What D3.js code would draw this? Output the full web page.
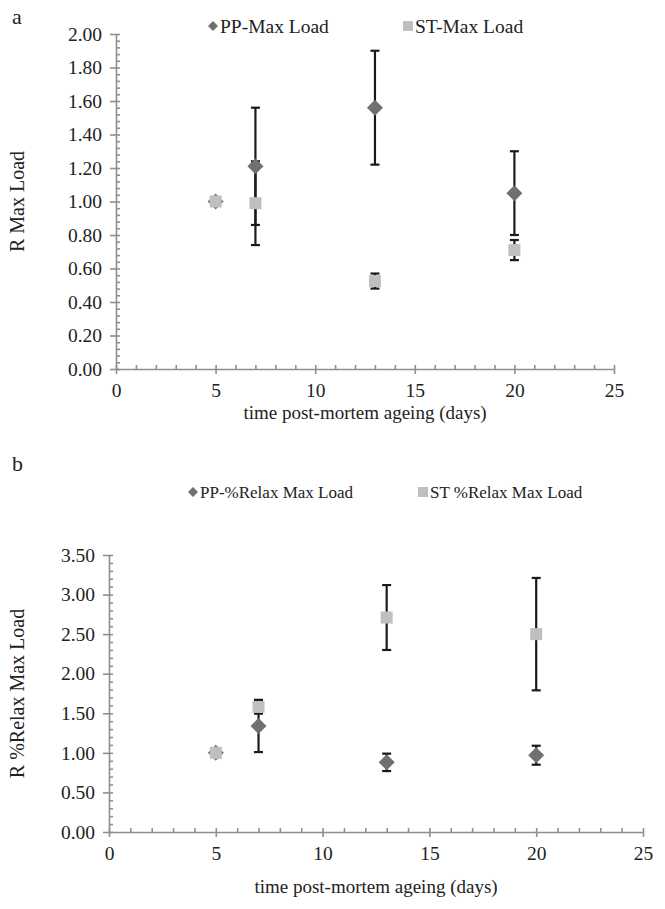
<!DOCTYPE html>
<html><head><meta charset="utf-8">
<script src="https://cdn.jsdelivr.net/npm/d3@7"></script>
<style>
body{margin:0;background:#fff;}
svg text{font-family:"Liberation Serif","Times New Roman",serif;fill:#222;}
</style></head>
<body>
<svg id="c" width="665" height="909"></svg>
<script>
const days = [5, 7, 13, 20];
const ppMaxLoad = [1.00, 1.21, 1.56, 1.05];
const ppMaxLoadErr = [0, 0.35, 0.34, 0.25];
const stMaxLoad = [1.00, 0.99, 0.525, 0.71];
const stMaxLoadErr = [0, 0.25, 0.045, 0.06];
const ppRelax = [1.00, 1.34, 0.88, 0.97];
const ppRelaxErr = [0, 0.33, 0.11, 0.12];
const stRelax = [1.00, 1.58, 2.71, 2.50];
const stRelaxErr = [0, 0.085, 0.41, 0.71];
const xTicks = [0, 5, 10, 15, 20, 25];
const yTicksA = [0, 0.2, 0.4, 0.6, 0.8, 1.0, 1.2, 1.4, 1.6, 1.8, 2.0];
const yTicksB = [0, 0.5, 1.0, 1.5, 2.0, 2.5, 3.0, 3.5];
const xTitle = "time post-mortem ageing (days)";

const PP_COLOR = "#707070", ST_COLOR = "#bfbfbf", AXIS = "#8f8f8f";
const svg = d3.select("#c");

function panel(opt) {
  const g = svg.append("g");
  const x = d3.scaleLinear().domain([0, 25]).range(opt.xr);
  const y = d3.scaleLinear().domain([0, opt.ymax]).range(opt.yr);
  const x0 = opt.xr[0], y0 = opt.yr[0];

  // minor inward ticks
  const minorY = d3.range(0, opt.ymax + 1e-9, opt.yminor);
  g.append("g").attr("transform", `translate(${x0},0)`)
    .call(d3.axisRight(y).tickValues(minorY).tickSize(4).tickFormat(""))
    .call(s => s.select(".domain").remove());
  const minorX = d3.range(0, 26, 1);
  g.append("g").attr("transform", `translate(0,${y0})`)
    .call(d3.axisTop(x).tickValues(minorX).tickSize(4).tickFormat(""))
    .call(s => s.select(".domain").remove());
  // major axes
  g.append("g").attr("transform", `translate(${x0},0)`)
    .call(d3.axisLeft(y).tickValues(opt.yticks).tickSize(6).tickSizeOuter(0).tickPadding(8).tickFormat(d3.format(".2f")));
  const xa = g.append("g").attr("transform", `translate(0,${y0})`)
    .call(d3.axisBottom(x).tickValues(xTicks).tickSize(5).tickSizeOuter(0).tickPadding(9).tickFormat(d3.format("d")));
  g.selectAll(".tick line, .domain").attr("stroke", AXIS).attr("stroke-width", 1.6);
  g.selectAll(".tick text").attr("font-size", 19.5).attr("font-family", "Liberation Serif").attr("fill", "#222");
  xa.selectAll(".tick text").attr("dy", "0.73em");

  // error bars
  const series = [
    {v: opt.pp, e: opt.ppErr},
    {v: opt.st, e: opt.stErr}
  ];
  series.forEach(s => {
    const eg = g.append("g").attr("stroke", "#1a1a1a").attr("stroke-width", 2.2);
    days.forEach((d, i) => {
      if (!s.e[i]) return;
      const cx = x(d), hi = y(s.v[i] + s.e[i]), lo = y(s.v[i] - s.e[i]);
      eg.append("line").attr("x1", cx).attr("x2", cx).attr("y1", hi).attr("y2", lo);
      eg.append("line").attr("x1", cx - 4.5).attr("x2", cx + 4.5).attr("y1", hi).attr("y2", hi);
      eg.append("line").attr("x1", cx - 4.5).attr("x2", cx + 4.5).attr("y1", lo).attr("y2", lo);
    });
  });
  // markers
  g.append("g").selectAll("path").data(days).join("path")
    .attr("d", (d, i) => {
      const cx = x(d), cy = y(opt.pp[i]), r = 8;
      return `M${cx},${cy - r}L${cx + r},${cy}L${cx},${cy + r}L${cx - r},${cy}Z`;
    }).attr("fill", PP_COLOR);
  g.append("g").selectAll("rect").data(days).join("rect")
    .attr("x", d => x(d) - 6).attr("y", (d, i) => y(opt.st[i]) - 6)
    .attr("width", 12).attr("height", 12).attr("fill", ST_COLOR);

  // legend
  const lg = g.append("g");
  const ly = opt.legY;
  const lx1 = opt.leg1x, r = 5;
  lg.append("path").attr("d", `M${lx1},${ly - r}L${lx1 + r},${ly}L${lx1},${ly + r}L${lx1 - r},${ly}Z`).attr("fill", PP_COLOR);
  lg.append("text").attr("x", lx1 + 7).attr("y", ly).attr("dy", "0.35em").attr("font-size", opt.legFs).text(opt.leg1);
  lg.append("rect").attr("x", opt.leg2x - 5).attr("y", ly - 5).attr("width", 10).attr("height", 10).attr("fill", ST_COLOR);
  lg.append("text").attr("x", opt.leg2x + 7).attr("y", ly).attr("dy", "0.35em").attr("font-size", opt.legFs).text(opt.leg2);

  // titles
  g.append("text").attr("x", (opt.xr[0] + opt.xr[1]) / 2).attr("y", opt.xTitleY)
    .attr("text-anchor", "middle").attr("font-size", 19).text(xTitle);
  g.append("text").attr("transform", `translate(${opt.yTitleX},${(opt.yr[0] + opt.yr[1]) / 2}) rotate(-90)`)
    .attr("text-anchor", "middle").attr("font-size", 20).text(opt.yTitle);
  g.append("text").attr("x", 12).attr("y", opt.labelY).attr("font-size", 22).text(opt.label);
}

panel({
  xr: [116, 614], yr: [369, 34], ymax: 2, yminor: 0.04, yticks: yTicksA,
  pp: ppMaxLoad, ppErr: ppMaxLoadErr, st: stMaxLoad, stErr: stMaxLoadErr,
  leg1: "PP-Max Load", leg2: "ST-Max Load", leg1x: 213, leg2x: 408, legY: 26, legFs: 19.5,
  xTitleY: 419, yTitleX: 24, yTitle: "R Max Load", label: "a", labelY: 24
});
panel({
  xr: [109, 643], yr: [832, 555], ymax: 3.5, yminor: 0.1, yticks: yTicksB,
  pp: ppRelax, ppErr: ppRelaxErr, st: stRelax, stErr: stRelaxErr,
  leg1: "PP-%Relax Max Load", leg2: "ST %Relax Max Load", leg1x: 193, leg2x: 423, legY: 492, legFs: 17,
  xTitleY: 893, yTitleX: 24, yTitle: "R %Relax Max Load", label: "b", labelY: 471
});
</script>
</body></html>
